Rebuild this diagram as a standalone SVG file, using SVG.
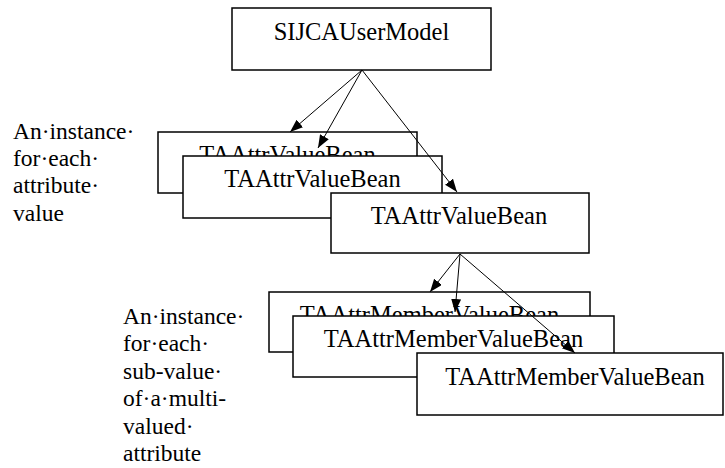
<svg xmlns="http://www.w3.org/2000/svg" width="725" height="468" viewBox="0 0 725 468">
<style>
.box{fill:#fff;stroke:#000;stroke-width:1.5}
.lbl{font-family:"Liberation Serif","Times New Roman",serif;font-size:24.5px;fill:#000;text-anchor:middle}
.note{font-family:"Liberation Serif","Times New Roman",serif;font-size:23.5px;fill:#000}
.edge{stroke:#000;stroke-width:1;fill:none;marker-end:url(#ah)}
</style>
<defs>
<marker id="ah" markerUnits="userSpaceOnUse" markerWidth="14" markerHeight="12" refX="13" refY="5" orient="auto">
<path d="M0,0 L13,5 L0,10 z" fill="#000"/>
</marker>
</defs>
<rect width="725" height="468" fill="#fff"/>
<g id="note1" class="note">
<text x="13" y="139">An&#183;instance&#183;</text>
<text x="13" y="166">for&#183;each&#183;</text>
<text x="13" y="193">attribute&#183;</text>
<text x="13" y="221">value</text>
</g>
<g id="note2" class="note">
<text x="123" y="324">An&#183;instance&#183;</text>
<text x="123" y="351">for&#183;each&#183;</text>
<text x="123" y="379">sub-value&#183;</text>
<text x="123" y="406">of&#183;a&#183;multi-</text>
<text x="123" y="434">valued&#183;</text>
<text x="123" y="461">attribute</text>
</g>
<g id="model"><rect class="box" x="232" y="8" width="259" height="62"/><text class="lbl" x="361.5" y="40">SIJCAUserModel</text></g>
<g id="bean1"><rect class="box" x="158" y="132" width="259" height="61"/><text class="lbl" x="287.5" y="163">TAAttrValueBean</text></g>
<g id="bean2"><rect class="box" x="183" y="156" width="259" height="62"/><text class="lbl" x="312.5" y="187">TAAttrValueBean</text></g>
<g id="bean3"><rect class="box" x="331" y="193" width="258" height="60"/><text class="lbl" x="459" y="224">TAAttrValueBean</text></g>
<g id="member1"><rect class="box" x="269" y="292" width="321" height="60"/><text class="lbl" x="429.5" y="323">TAAttrMemberValueBean</text></g>
<g id="member2"><rect class="box" x="293" y="316" width="321" height="61"/><text class="lbl" x="453.5" y="347">TAAttrMemberValueBean</text></g>
<g id="member3"><rect class="box" x="417" y="353" width="306" height="62"/><text class="lbl" x="575" y="385">TAAttrMemberValueBean</text></g>
<g id="connectors">
<line class="edge" x1="362" y1="70" x2="290" y2="132"/>
<line class="edge" x1="362" y1="70" x2="318" y2="148"/>
<line class="edge" x1="362" y1="70" x2="457" y2="192"/>
<line class="edge" x1="460" y1="254" x2="430" y2="292"/>
<line class="edge" x1="460" y1="254" x2="455" y2="312"/>
<line class="edge" x1="460" y1="254" x2="575" y2="353"/>
</g>
</svg>
